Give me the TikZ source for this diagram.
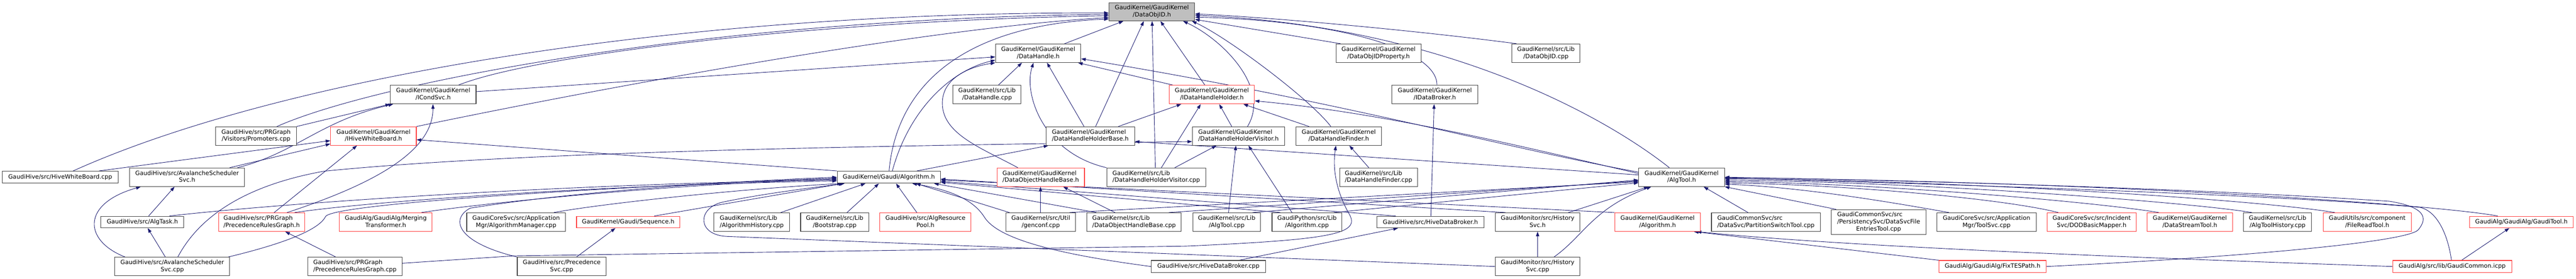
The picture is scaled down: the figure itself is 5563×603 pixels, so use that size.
\documentclass[tikz,border=0pt]{standalone}
\usepackage{fontspec}
\setmainfont{DejaVu Sans}
\usetikzlibrary{arrows.meta}
\definecolor{edgeblue}{HTML}{191970}
\definecolor{nodegray}{HTML}{404040}
\definecolor{nodered}{HTML}{FF3B3B}
\definecolor{rootgray}{HTML}{BFBFBF}
\newcommand\gfont{\fontsize{12.8pt}{15.4pt}\selectfont}
\newcommand\twol[2]{\begin{tabular}{@{}l@{}}#1\\\multicolumn{1}{@{}c@{}}{#2}\end{tabular}}
\newcommand\threel[3]{\begin{tabular}{@{}l@{}}#1\\#2\\\multicolumn{1}{@{}c@{}}{#3}\end{tabular}}
\pgfdeclarelayer{bgfill}
\pgfdeclarelayer{edges}
\pgfsetlayers{bgfill,edges,main}
\tikzset{
  nbox/.style={draw=nodegray, line width=1.2pt, fill=white, inner sep=0pt, minimum height=40pt, font=\gfont},
  rbox/.style={nbox, draw=nodered},
  onel/.style={minimum height=25pt},
  threeh/.style={minimum height=54pt},
  conn/.style={draw=edgeblue, line width=1pt, -{Triangle[length=10pt,width=7pt]}},
}
\begin{document}
\begin{tikzpicture}[x=1pt,y=-1pt]
\useasboundingbox (0,0) rectangle (5563,603);
\begin{pgfonlayer}{bgfill}
\fill[white] (0,0) rectangle (5563,603);
\end{pgfonlayer}
% row 0
\node[nbox, fill=rootgray, minimum width=185pt, minimum height=39pt] (objid) at (2487.5,25.5) {\twol{GaudiKernel/GaudiKernel}{/DataObjID.h}};
% row 1
\node[nbox, minimum width=184pt] (dh) at (2242,115) {\twol{GaudiKernel/GaudiKernel}{/DataHandle.h}};
\node[nbox, minimum width=184pt] (objidprop) at (2977,115) {\twol{GaudiKernel/GaudiKernel}{/DataObjIDProperty.h}};
\node[nbox, minimum width=147pt] (objidcpp) at (3338.5,115) {\twol{GaudiKernel/src/Lib}{/DataObjID.cpp}};
% row 2
\node[nbox, minimum width=185pt] (icond) at (935.5,204.5) {\twol{GaudiKernel/GaudiKernel}{/ICondSvc.h}};
\node[nbox, minimum width=147pt] (dhcpp) at (2131.5,204.5) {\twol{GaudiKernel/src/Lib}{/DataHandle.cpp}};
\node[rbox, minimum width=184pt] (idhh) at (2617,204.5) {\twol{GaudiKernel/GaudiKernel}{/IDataHandleHolder.h}};
\node[nbox, minimum width=185pt] (idb) at (3098.5,204.5) {\twol{GaudiKernel/GaudiKernel}{/IDataBroker.h}};
% row 3
\node[nbox, minimum width=174pt] (prom) at (553,294) {\twol{GaudiHive/src/PRGraph}{/Visitors/Promoters.cpp}};
\node[rbox, minimum width=185pt] (ihwb) at (806.5,294) {\twol{GaudiKernel/GaudiKernel}{/IHiveWhiteBoard.h}};
\node[nbox, minimum width=191pt] (dhhb) at (2354.5,294) {\twol{GaudiKernel/GaudiKernel}{/DataHandleHolderBase.h}};
\node[nbox, minimum width=199pt] (dhhv) at (2674.5,294) {\twol{GaudiKernel/GaudiKernel}{/DataHandleHolderVisitor.h}};
\node[nbox, minimum width=184pt] (dhf) at (2891,294) {\twol{GaudiKernel/GaudiKernel}{/DataHandleFinder.h}};
% row 4
\node[nbox, onel, minimum width=251pt, minimum height=26pt] (hwbcpp) at (130,383) {GaudiHive/src/HiveWhiteBoard.cpp};
\node[nbox, minimum width=248pt] (assh) at (404,383) {\twol{GaudiHive/src/AvalancheScheduler}{Svc.h}};
\node[nbox, onel, minimum width=223pt, minimum height=26pt] (galg) at (1919.5,383) {GaudiKernel/Gaudi/Algorithm.h};
\node[rbox, minimum width=189pt] (dohb) at (2247.5,383) {\twol{GaudiKernel/GaudiKernel}{/DataObjectHandleBase.h}};
\node[nbox, minimum width=214pt] (dhhvcpp) at (2497,383) {\twol{GaudiKernel/src/Lib}{/DataHandleHolderVisitor.cpp}};
\node[nbox, minimum width=168pt] (dhfcpp) at (2977,383) {\twol{GaudiKernel/src/Lib}{/DataHandleFinder.cpp}};
\node[nbox, minimum width=185pt] (algtool) at (3631.5,383) {\twol{GaudiKernel/GaudiKernel}{/AlgTool.h}};
% row 5
\node[nbox, onel, minimum width=179pt] (algtask) at (307.5,480) {GaudiHive/src/AlgTask.h};
\node[rbox, minimum width=186pt] (prgh) at (565,480) {\twol{GaudiHive/src/PRGraph}{/PrecedenceRulesGraph.h}};
\node[rbox, minimum width=200pt] (merg) at (833,480) {\twol{GaudiAlg/GaudiAlg/Merging}{Transformer.h}};
\node[nbox, minimum width=213pt] (algmgr) at (1114.5,480) {\twol{GaudiCoreSvc/src/Application}{Mgr/AlgorithmManager.cpp}};
\node[rbox, onel, minimum width=223pt] (seq) at (1356.5,480) {GaudiKernel/Gaudi/Sequence.h};
\node[nbox, minimum width=163pt] (alghist) at (1623.5,480) {\twol{GaudiKernel/src/Lib}{/AlgorithmHistory.cpp}};
\node[nbox, minimum width=147pt] (boot) at (1802.5,480) {\twol{GaudiKernel/src/Lib}{/Bootstrap.cpp}};
\node[rbox, minimum width=197pt] (arp) at (1998.5,480) {\twol{GaudiHive/src/AlgResource}{Pool.h}};
\node[nbox, minimum width=151pt] (genconf) at (2247.5,480) {\twol{GaudiKernel/src/Util}{/genconf.cpp}};
\node[nbox, minimum width=204pt] (dohbcpp) at (2449,480) {\twol{GaudiKernel/src/Lib}{/DataObjectHandleBase.cpp}};
\node[nbox, minimum width=146pt] (algtoolcpp) at (2649,480) {\twol{GaudiKernel/src/Lib}{/AlgTool.cpp}};
\node[nbox, minimum width=151pt] (gpalg) at (2822.5,480) {\twol{GaudiPython/src/Lib}{/Algorithm.cpp}};
\node[nbox, onel, minimum width=232pt] (hdbh) at (3089,480) {GaudiHive/src/HiveDataBroker.h};
\node[nbox, minimum width=183pt] (histh) at (3320.5,480) {\twol{GaudiMonitor/src/History}{Svc.h}};
\node[rbox, minimum width=185pt] (kalg) at (3579.5,480) {\twol{GaudiKernel/GaudiKernel}{/Algorithm.h}};
\node[nbox, minimum width=235pt] (pst) at (3813.5,480) {\twol{GaudiCommonSvc/src}{/DataSvc/PartitionSwitchTool.cpp}};
\node[nbox, threeh, minimum width=204pt] (dsfet) at (4057,480) {\threel{GaudiCommonSvc/src}{/PersistencySvc/DataSvcFile}{EntriesTool.cpp}};
\node[nbox, minimum width=214pt] (toolsvc) at (4290,480) {\twol{GaudiCoreSvc/src/Application}{Mgr/ToolSvc.cpp}};
\node[rbox, minimum width=192pt] (dod) at (4517,480) {\twol{GaudiCoreSvc/src/Incident}{Svc/DODBasicMapper.h}};
\node[rbox, minimum width=184pt] (dst) at (4729,480) {\twol{GaudiKernel/GaudiKernel}{/DataStreamTool.h}};
\node[nbox, minimum width=147pt] (athist) at (4918.5,480) {\twol{GaudiKernel/src/Lib}{/AlgToolHistory.cpp}};
\node[rbox, minimum width=190pt] (frt) at (5112,480) {\twol{GaudiUtils/src/component}{/FileReadTool.h}};
\node[rbox, onel, minimum width=224pt] (gtool) at (5445,480) {GaudiAlg/GaudiAlg/GaudiTool.h};
% row 6
\node[nbox, minimum width=248pt] (asscpp) at (372,576) {\twol{GaudiHive/src/AvalancheScheduler}{Svc.cpp}};
\node[nbox, minimum width=203pt] (prgcpp) at (766.5,576) {\twol{GaudiHive/src/PRGraph}{/PrecedenceRulesGraph.cpp}};
\node[nbox, minimum width=192pt] (psvc) at (1213,576) {\twol{GaudiHive/src/Precedence}{Svc.cpp}};
\node[nbox, onel, minimum width=247pt, minimum height=26pt] (hdbcpp) at (2609.5,576) {GaudiHive/src/HiveDataBroker.cpp};
\node[nbox, minimum width=183pt] (histcpp) at (3320.5,576) {\twol{GaudiMonitor/src/History}{Svc.cpp}};
\node[rbox, onel, minimum width=232pt, minimum height=26pt] (fixtes) at (4303,576) {GaudiAlg/GaudiAlg/FixTESPath.h};
\node[rbox, onel, minimum width=257pt, minimum height=26pt] (gcommon) at (5295.5,576) {GaudiAlg/src/lib/GaudiCommon.icpp};

\begin{pgfonlayer}{edges}
% to DataObjID.h
\draw[conn] (158,0 |- hwbcpp.north) .. controls (600,170) and (1450,25) .. (objid.west |- 0,28);
\draw[conn] (598,0 |- prom.north) .. controls (820,175) and (1550,40) .. (objid.west |- 0,31);
\draw[conn] (990,0 |- icond.north) .. controls (1150,120) and (1750,45) .. (objid.west |- 0,34);
\draw[conn] (ihwb.north east) .. controls (1300,190) and (2000,60) .. (objid.west |- 0,38);
\draw[conn] (1920,0 |- galg.north) .. controls (1935,200) and (2060,55) .. (objid.west |- 0,41);
\draw[conn] (2299,0 |- dh.north) -- (2426,0 |- objid.south);
\draw[conn] (2366,0 |- dhhb.north) -- (2470,0 |- objid.south);
\draw[conn] (2495,0 |- dhhvcpp.north) -- (2488,0 |- objid.south);
\draw[conn] (2602,0 |- idhh.north) -- (2506,0 |- objid.south);
\draw[conn] (2694,0 |- dhhv.north) .. controls (2745,190) and (2640,85) .. (2555,0 |- objid.south);
\draw[conn] (2874,0 |- dhf.north) .. controls (2830,215) and (2650,80) .. (2574,0 |- objid.south);
\draw[conn] (2895,0 |- objidprop.north) -- (objid.east |- 0,42);
\draw[conn] (3275,0 |- objidcpp.north) .. controls (3050,65) and (2750,38) .. (objid.east |- 0,30);
\draw[conn] (3103,0 |- idb.north) .. controls (3105,110) and (2900,45) .. (objid.east |- 0,37);
\draw[conn] (3605,0 |- algtool.north) .. controls (3450,240) and (3100,55) .. (objid.east |- 0,33);
% to DataHandle.h
\draw[conn] (icond.east |- 0,198) -- (dh.west |- 0,123);
\draw[conn] (1927,0 |- galg.north) .. controls (1965,230) and (2060,150) .. (dh.west |- 0,130);
\draw[conn] (2198,0 |- dohb.north) .. controls (2120,320) and (2035,290) .. (2035,223) .. controls (2035,170) and (2090,145) .. (dh.south west);
\draw[conn] (2156,0 |- dhcpp.north) -- (2207,0 |- dh.south);
\draw[conn] (dhhvcpp.north west) .. controls (2250,330) and (2210,200) .. (2232,0 |- dh.south);
\draw[conn] (2341,0 |- dhhb.north) -- (2261,0 |- dh.south);
\draw[conn] (2533,0 |- idhh.north) -- (2328,0 |- dh.south);
\draw[conn] (algtool.west |- 0,372) .. controls (3250,320) and (2900,220) .. (dh.east |- 0,127);
% to IDataHandleHolder.h
\draw[conn] (2415,0 |- dhhb.north) -- (2551,0 |- idhh.south);
\draw[conn] (2508,0 |- dhhvcpp.north) -- (2593,0 |- idhh.south);
\draw[conn] (2660,0 |- dhhv.north) -- (2633,0 |- idhh.south);
\draw[conn] (2827,0 |- dhf.north) -- (2685,0 |- idhh.south);
\draw[conn] (algtool.west |- 0,375) .. controls (3300,320) and (3000,245) .. (idhh.east |- 0,218);
% to ICondSvc.h
\draw[conn] (prom.north east) -- (icond.south west);
\draw[conn] (513,0 |- assh.north) .. controls (640,330) and (690,262) .. (849,0 |- icond.south);
\draw[conn] (620,0 |- prgh.north) .. controls (800,400) and (935,330) .. (935,0 |- icond.south);
% to IHiveWhiteBoard.h
\draw[conn] (214,0 |- hwbcpp.north) -- (ihwb.west |- 0,304);
\draw[conn] (496,0 |- assh.north) -- (ihwb.west |- 0,311);
\draw[conn] (592,0 |- prgh.north) -- (771,0 |- ihwb.south);
\draw[conn] (galg.north west) -- (ihwb.east |- 0,302);
% to DataHandleHolderBase.h
\draw[conn] (1980,0 |- galg.north) -- (2264,0 |- dhhb.south);
\draw[conn] (algtool.west |- 0,378) -- (dhhb.east |- 0,306);
% to DataHandleHolderVisitor.h
\draw[conn] (384,0 |- asscpp.north) .. controls (440,450) and (560,395) .. (700,370) .. controls (1100,330) and (1800,316) .. (dhhv.west |- 0,306);
\draw[conn] (2537,0 |- dhhvcpp.north) -- (2627,0 |- dhhv.south);
\draw[conn] (2653,0 |- algtoolcpp.north) -- (2669,0 |- dhhv.south);
\draw[conn] (2790,0 |- gpalg.north) -- (2696,0 |- dhhv.south);
% to DataHandleFinder.h
\draw[conn] (2956,0 |- dhfcpp.north) -- (2914,0 |- dhf.south);
\draw[conn] (prgcpp.east |- 0,569) -- (1110,553) -- (2560,532) .. controls (2880,518) and (2935,505) .. (2915,465) .. controls (2883,410) and (2878,360) .. (2885,0 |- dhf.south);
% to IDataBroker.h
\draw[conn] (3090,0 |- hdbh.north) -- (3097,0 |- idb.south);
% to DataObjectHandleBase.h
\draw[conn] (2247,0 |- genconf.north) -- (2247,0 |- dohb.south);
\draw[conn] (2408,0 |- dohbcpp.north) -- (2296,0 |- dohb.south);
% to Gaudi/Algorithm.h
\draw[conn] (366,0 |- algtask.north) .. controls (600,440) and (1200,398) .. (galg.west |- 0,389);
\draw[conn] (636,0 |- prgh.north) .. controls (800,435) and (1300,400) .. (galg.west |- 0,391);
\draw[conn] (910,0 |- merg.north) .. controls (1000,445) and (1400,400) .. (galg.west |- 0,387);
\draw[conn] (493,0 |- asscpp.north) .. controls (620,525) and (690,495) .. (703,468) .. controls (720,440) and (1300,405) .. (galg.west |- 0,385);
\draw[conn] (psvc.north west) .. controls (990,525) and (970,475) .. (1015,450) .. controls (1200,420) and (1500,395) .. (galg.west |- 0,383);
\draw[conn] (1196,0 |- algmgr.north) .. controls (1300,440) and (1600,408) .. (1818,0 |- galg.south);
\draw[conn] (1413,0 |- seq.north) -- (1821,0 |- galg.south);
\draw[conn] (histcpp.west) -- (1570,511) .. controls (1505,508) and (1505,450) .. (1560,437) .. controls (1650,418) and (1760,405) .. (1824,0 |- galg.south);
\draw[conn] (1686,0 |- alghist.north) -- (1869,0 |- galg.south);
\draw[conn] (1829,0 |- boot.north) -- (1898,0 |- galg.south);
\draw[conn] (1980,0 |- arp.north) -- (1935,0 |- galg.south);
\draw[conn] (2180,0 |- genconf.north) -- (1978,0 |- galg.south);
\draw[conn] (hdbcpp.west) .. controls (2250,545) and (2150,510) .. (2125,468) .. controls (2100,430) and (2050,410) .. (1970,0 |- galg.south);
\draw[conn] (2368,0 |- dohbcpp.north) -- (2017,0 |- galg.south);
\draw[conn] (2765,0 |- gpalg.north) -- (galg.east |- 0,394);
\draw[conn] (kalg.north west) -- (galg.east |- 0,389);
\draw[conn] (3251,0 |- histh.north) -- (galg.east |- 0,387);
\draw[conn] (3014,0 |- hdbh.north) -- (galg.east |- 0,392);
% to AlgTool.h
\draw[conn] (2310,0 |- genconf.north) -- (algtool.west |- 0,393);
\draw[conn] (2524,0 |- dohbcpp.north) -- (algtool.west |- 0,391);
\draw[conn] (2705,0 |- algtoolcpp.north) -- (algtool.west |- 0,389);
\draw[conn] (2880,0 |- gpalg.north) -- (algtool.west |- 0,395);
\draw[conn] (3387,0 |- histh.north) -- (3560,0 |- algtool.south);
\draw[conn] (3356,0 |- histcpp.north) .. controls (3420,510) and (3440,450) .. (3566,0 |- algtool.south);
\draw[conn] (3775,0 |- pst.north) -- (3679,0 |- algtool.south);
\draw[conn] (3965,0 |- dsfet.north) -- (algtool.south east);
\draw[conn] (4209,0 |- toolsvc.north) .. controls (4100,440) and (3900,405) .. (algtool.east |- 0,398);
\draw[conn] (4445,0 |- dod.north) .. controls (4330,430) and (4000,400) .. (algtool.east |- 0,395);
\draw[conn] (4662,0 |- dst.north) .. controls (4550,440) and (4100,398) .. (algtool.east |- 0,392);
\draw[conn] (4863,0 |- athist.north) .. controls (4750,440) and (4200,395) .. (algtool.east |- 0,389);
\draw[conn] (5042,0 |- frt.north) .. controls (4900,435) and (4300,392) .. (algtool.east |- 0,386);
\draw[conn] (5394,0 |- gtool.north) .. controls (5250,440) and (4500,392) .. (algtool.east |- 0,384);
\draw[conn] (5294,0 |- gcommon.north) .. controls (5285,500) and (5260,455) .. (5225,448) .. controls (4900,420) and (4200,398) .. (algtool.east |- 0,385);
\draw[conn] (fixtes.east) .. controls (4800,558) and (5195,525) .. (5222,497) .. controls (5245,470) and (5235,447) .. (5160,435) .. controls (4700,405) and (4100,390) .. (algtool.east |- 0,383);
% to GaudiKernel/Algorithm.h
\draw[conn] (fixtes.north west) -- (3658,0 |- kalg.south);
\draw[conn] (gcommon.west) .. controls (4700,560) and (4000,535) .. (3664,0 |- kalg.south);
% others
\draw[conn] (5316,0 |- gcommon.north) -- (5419,0 |- gtool.south);
\draw[conn] (2676,0 |- hdbcpp.north) -- (3019,0 |- hdbh.south);
\draw[conn] (histcpp.north) -- (histh.south);
\draw[conn] (1245,0 |- psvc.north) -- (1329,0 |- seq.south);
\draw[conn] (725,0 |- prgcpp.north) -- (616,0 |- prgh.south);
\draw[conn] (270,0 |- asscpp.north) .. controls (180,520) and (175,440) .. (304,0 |- assh.south);
\draw[conn] (321,0 |- algtask.north) -- (377,0 |- assh.south);
\draw[conn] (357,0 |- asscpp.north) -- (319,0 |- algtask.south);
\end{pgfonlayer}
\end{tikzpicture}
\end{document}
